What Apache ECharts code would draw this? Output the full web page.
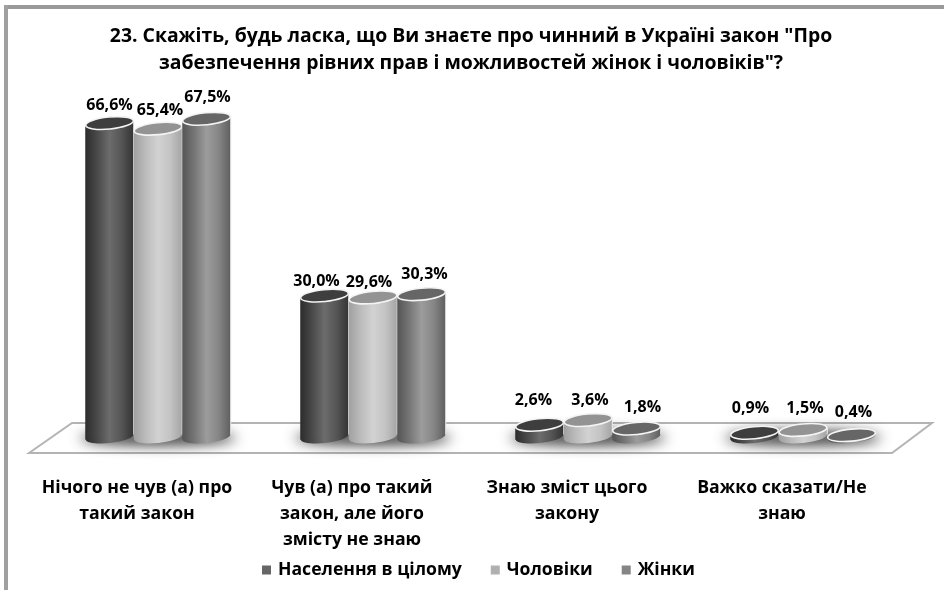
<!DOCTYPE html>
<html><head><meta charset="utf-8">
<style>html,body{margin:0;padding:0;background:#fff}#c{width:944px;height:590px}</style>
<script src="https://cdn.jsdelivr.net/npm/echarts@6/dist/echarts.min.js"></script>
</head><body><div id="c"></div>
<script>
const chartTitle = '23. Скажіть, будь ласка, що Ви знаєте про чинний в Україні закон "Про\nзабезпечення рівних прав і можливостей жінок і чоловіків"?';
const categories = ['Нічого не чув (а) про\nтакий закон','Чув (а) про такий\nзакон, але його\nзмісту не знаю','Знаю зміст цього\nзакону','Важко сказати/Не\nзнаю'];
const seriesNames = ['Населення в цілому','Чоловіки','Жінки'];
const population = [66.6,30.0,2.6,0.9];
const men = [65.4,29.6,3.6,1.5];
const women = [67.5,30.3,1.8,0.4];

const FONT = '"Open Sans", sans-serif';
const looks = [
  {legend:'#666666', top:'#3e3e3e', stops:['#2c2c2c','#4a4a4a','#6c6c6c','#555555','#333333']},
  {legend:'#b0b0b0', top:'#939393', stops:['#a0a0a0','#bcbcbc','#d2d2d2','#c4c4c4','#a4a4a4']},
  {legend:'#858585', top:'#666666', stops:['#555555','#767676','#9c9c9c','#868686','#5e5e5e']}
];
const labelNudges = [
  [[0,-18],[2,-18],[1,-21]],
  [[-8,-14],[-4,-15],[3,-20]],
  [[-6,-24],[2,-20],[6,-21]],
  [[-4,-24],[2,-21],[2,-23]]
];
function grad(stops){
  return {type:'linear',x:0,y:0,x2:1,y2:0,colorStops:stops.map((c,i)=>({offset:i/(stops.length-1),color:c}))};
}
const TILT = 0.10;
function cylinder(seriesIdx){
  const look = looks[seriesIdx];
  return function(params, api){
    const cat = api.value(0), val = api.value(1);
    const base = api.coord([cat,0]), top = api.coord([cat,val]);
    const band = api.size([1,0])[0];
    const w = band*0.2256, rx = w/2, ry = 6;
    const cx = base[0] + (seriesIdx-1)*w;
    const rise = rx*Math.sin(TILT);
    const n = labelNudges[cat][seriesIdx];
    const ell = (y,extra)=>Object.assign({type:'ellipse',x:cx,y:y,rotation:TILT,shape:{cx:0,cy:0,rx:rx-0.3,ry:ry}},extra);
    return {type:'group',children:[
      ell(base[1],{style:{fill:grad(look.stops)}}),
      {type:'polygon',shape:{points:[[cx-rx,top[1]+rise],[cx+rx,top[1]-rise],[cx+rx,base[1]-rise],[cx-rx,base[1]+rise]]},
        style:{fill:grad(look.stops)}},
      {type:'line',shape:{x1:cx+rx,y1:top[1]-rise,x2:cx+rx,y2:base[1]-rise},style:{stroke:'#f0f0f0',lineWidth:1}},
      ell(top[1],{style:{fill:look.top,stroke:'#f4f4f4',lineWidth:1.6}}),
      {type:'text',x:cx+n[0],y:top[1]+n[1],style:{text:String(val.toFixed(1)).replace('.',',')+'%',
        fill:'#000',font:'bold 16px '+FONT,align:'center',verticalAlign:'middle'}}
    ]};
  };
}
const allValues = [population,men,women];
const chart = echarts.init(document.getElementById('c'),null,{renderer:'canvas'});
chart.setOption({
  animation:false,
  backgroundColor:'#ffffff',
  title:{text:chartTitle,left:466,top:18,textAlign:'center',
    textStyle:{fontFamily:FONT,fontWeight:'bold',fontSize:19.4,lineHeight:27,color:'#000'}},
  legend:{data:seriesNames,left:257,top:556,itemWidth:9,itemHeight:9,itemGap:29,icon:'rect',
    textStyle:{fontFamily:FONT,fontWeight:'bold',fontSize:17.6,color:'#000',padding:[0,0,0,2]}},
  grid:{left:50.5,right:33.5,top:107,bottom:153},
  xAxis:{type:'category',data:categories,axisLine:{show:false},axisTick:{show:false},
    axisLabel:{margin:38,interval:0,color:'#000',fontFamily:FONT,fontWeight:'bold',fontSize:17.7,lineHeight:26,padding:[0,42,0,0]}},
  yAxis:{type:'value',min:0,max:70,show:false},
  graphic:[
    {type:'rect',shape:{x:4,y:5,width:940,height:4},style:{fill:'#999999'}},
    {type:'rect',shape:{x:4,y:5,width:4,height:585},style:{fill:'#a0a0a0'}},
    {type:'polygon',shape:{points:[[29,453],[72,423],[932,423],[892,453]]},
      style:{fill:'#ffffff',stroke:'#b4b4b4',lineWidth:2}}
  ],
  series:[
    {type:'custom',name:'_floorShadow',z:10,silent:true,clip:false,
     data:categories.map((c,i)=>[i,0.2]),encode:{x:0,y:1},
     renderItem(params,api){
       const p = api.coord([api.value(0),0]);
       return {type:'ellipse',shape:{cx:p[0]-2000,cy:p[1]+1,rx:78,ry:7},
         style:{fill:'#333333',shadowBlur:13,shadowColor:'#333333',shadowOffsetX:2000}};
     }},
    ...seriesNames.map((name,i)=>({
      type:'custom',name,z:11+i,itemStyle:{color:looks[i].legend},
      data:allValues[i].map((v,k)=>[k,v]),encode:{x:0,y:1},
      renderItem:cylinder(i)
    }))
  ]
});
</script></body></html>
